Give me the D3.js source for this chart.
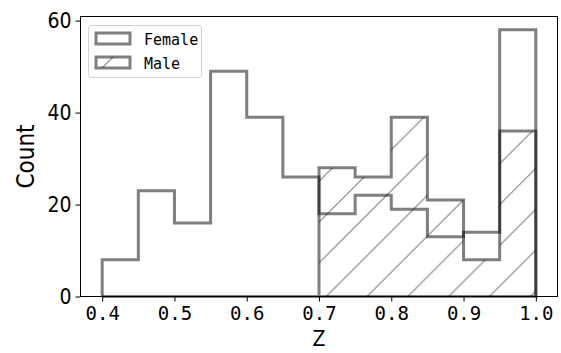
<!DOCTYPE html>
<html>
<head>
<meta charset="utf-8">
<script src="https://cdn.jsdelivr.net/npm/d3@7"></script>
<style>
  body { margin: 0; background: #fff; }
  svg { display: block; }
  .tick text { font-family: "DejaVu Sans Mono", monospace; }
</style>
</head>
<body>
<svg id="chart" width="561" height="353"></svg>
<script>
    'use strict';

    // bin edges of the histogram (width 0.05)
    var binEdges = [0.40, 0.45, 0.50, 0.55, 0.60, 0.65, 0.70, 0.75, 0.80, 0.85, 0.90, 0.95, 1.00];
    var femaleCounts = [8, 23, 16, 49, 39, 26, 18, 22, 19, 13, 14, 58];
    var maleCounts = [0, 0, 0, 0, 0, 0, 28, 26, 39, 21, 8, 36];
    var xTicks = [0.4, 0.5, 0.6, 0.7, 0.8, 0.9, 1.0];
    var yTicks = [0, 20, 40, 60];
    var seriesNames = ['Female', 'Male'];

    (function() {
        var svg = d3.select('#chart');
        var pLeft = 80.5, pRight = 557.5, pTop = 16.5, pBottom = 296.5;
        var edgeColor = 'rgba(0,0,0,0.5)';

        var x = d3.scaleLinear().domain([0.37, 1.03]).range([pLeft, pRight]);
        var y = d3.scaleLinear().domain([0, 60.9]).range([pBottom, pTop]);

        // hatch pattern for Male
        var defs = svg.append('defs');
        var pat = defs.append('pattern')
            .attr('id', 'hatch')
            .attr('patternUnits', 'userSpaceOnUse')
            .attr('width', 40.8)
            .attr('height', 40.8)
            .attr('patternTransform', 'translate(10.7,0)');
        pat.append('path')
            .attr('d', 'M-2,42.8 L42.8,-2 M-2,2 L2,-2 M38.8,42.8 L42.8,38.8')
            .style('stroke', edgeColor)
            .style('stroke-width', 1.1);

        var legPat = defs.append('pattern')
            .attr('id', 'hatchLeg')
            .attr('patternUnits', 'userSpaceOnUse')
            .attr('width', 40)
            .attr('height', 40)
            .attr('patternTransform', 'translate(10,0)');
        legPat.append('path')
            .attr('d', 'M-2,42 L42,-2')
            .style('stroke', edgeColor)
            .style('stroke-width', 1.1);

        function stepPoints(counts) {
            var pts = [[x(binEdges[0]), y(0)]];
            counts.forEach(function(c, i) {
                pts.push([x(binEdges[i]), y(c)]);
                pts.push([x(binEdges[i + 1]), y(c)]);
            });
            pts.push([x(binEdges[binEdges.length - 1]), y(0)]);
            return pts;
        }

        var line = d3.line();

        // Male: hatched filled step polygon
        svg.append('path')
            .attr('d', line(stepPoints(maleCounts)) + 'Z')
            .style('fill', 'url(#hatch)')
            .style('stroke', edgeColor)
            .style('stroke-width', 3)
            .style('stroke-linejoin', 'miter');

        // Female: step outline
        svg.append('path')
            .attr('d', line(stepPoints(femaleCounts)))
            .style('fill', 'none')
            .style('stroke', edgeColor)
            .style('stroke-width', 3)
            .style('stroke-linejoin', 'miter');

        // axes
        var xAxis = svg.append('g')
            .attr('transform', 'translate(0,' + pBottom + ')')
            .call(d3.axisBottom(x).tickValues(xTicks).tickSize(5).tickPadding(4)
                .tickFormat(d3.format('.1f')));
        xAxis.select('.domain').remove();
        xAxis.selectAll('text').style('font-size', '19px').style('fill', '#000')
            .attr('dy', '0.78em');

        var yAxis = svg.append('g')
            .attr('transform', 'translate(' + pLeft + ',0)')
            .call(d3.axisLeft(y).tickValues(yTicks).tickSize(5).tickPadding(4));
        yAxis.select('.domain').remove();
        yAxis.selectAll('text')
            .style('font-family', '"Liberation Sans Narrow", "DejaVu Sans Condensed", sans-serif')
            .style('font-size', '21px').style('fill', '#000');

        svg.selectAll('.tick line').style('stroke', '#000');

        // frame
        svg.append('rect')
            .attr('x', pLeft).attr('y', pTop)
            .attr('width', pRight - pLeft).attr('height', pBottom - pTop)
            .style('fill', 'none').style('stroke', '#000').style('stroke-width', 1);

        // axis labels
        svg.append('text')
            .attr('transform', 'translate(34,' + (pTop + pBottom) / 2 + ') rotate(-90)')
            .attr('text-anchor', 'middle')
            .style('font-family', '"Liberation Sans Narrow", "DejaVu Sans Condensed", sans-serif')
            .style('font-size', '24px')
            .text('Count');

        svg.append('text')
            .attr('x', (pLeft + pRight) / 2)
            .attr('y', 346)
            .attr('text-anchor', 'middle')
            .style('font-family', '"Liberation Sans Narrow", "DejaVu Sans Condensed", sans-serif')
            .style('font-size', '21px')
            .text('Z');

        // legend
        var legend = svg.append('g');
        legend.append('rect')
            .attr('x', 88.5).attr('y', 25.5).attr('width', 113).attr('height', 52)
            .attr('rx', 3)
            .style('fill', 'rgba(255,255,255,0.8)')
            .style('stroke', '#d0d0d0');

        seriesNames.forEach(function(name, i) {
            var ly = 32 + i * 24;
            legend.append('rect')
                .attr('x', 96).attr('y', ly + 1)
                .attr('width', 34).attr('height', 11)
                .style('fill', name === 'Male' ? 'url(#hatchLeg)' : 'none')
                .style('stroke', edgeColor)
                .style('stroke-width', 3);
            legend.append('text')
                .attr('x', 144).attr('y', ly + 13)
                .style('font-family', '"DejaVu Sans Mono", monospace')
                .style('font-size', '15px')
                .text(name);
        });
    })();
</script>
</body>
</html>
